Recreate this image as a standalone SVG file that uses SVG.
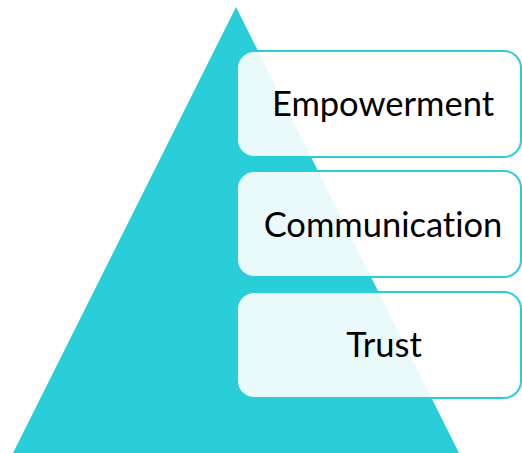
<svg xmlns="http://www.w3.org/2000/svg" width="522" height="453" viewBox="0 0 522 453">
<style>
.box{fill:#ffffff;fill-opacity:0.9;stroke:#29CED8;stroke-width:2}
.lbl{font-family:"Lato","Open Sans","Liberation Sans",sans-serif;font-size:34.5px;fill:#000000;text-anchor:middle;font-variant-ligatures:none}
</style>
<rect x="0" y="0" width="522" height="453" fill="#ffffff"/>
<g id="pyramid">
<polygon points="236,7 459,453 13,453" fill="#29CED8"/>
</g>
<g id="connectors"></g>
<g id="empowerment">
<rect class="box" x="237" y="51" width="284" height="106" rx="17"/>
<text class="lbl" x="383" y="116">Empowerment</text>
</g>
<g id="communication">
<rect class="box" x="237" y="171" width="284" height="106" rx="17"/>
<text class="lbl" x="383" y="237">Communication</text>
</g>
<g id="trust">
<rect class="box" x="237" y="292" width="284" height="106" rx="17"/>
<text class="lbl" x="384" y="357">Trust</text>
</g>
</svg>
